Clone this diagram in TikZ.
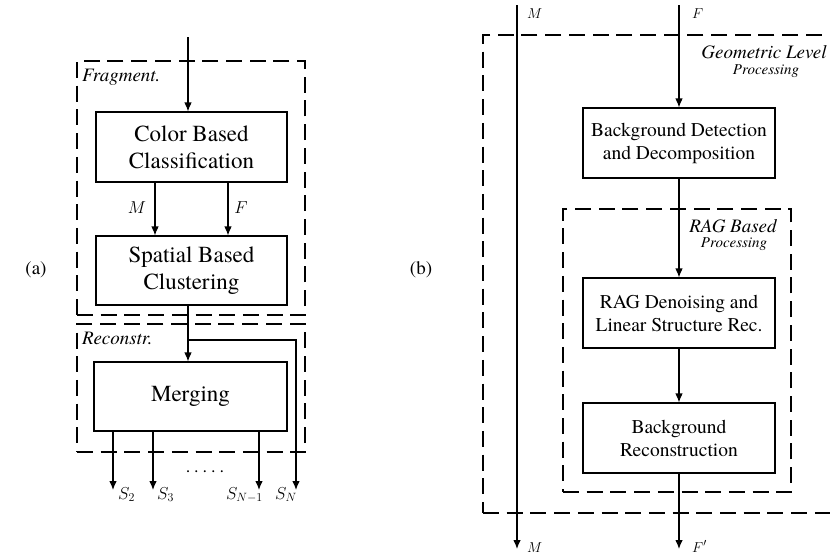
\documentclass[tikz,border=0pt]{standalone}
\usepackage{fontspec}
\setmainfont{texgyretermes-regular.otf}[ItalicFont=texgyretermes-italic.otf, BoldFont=texgyretermes-bold.otf]
\usetikzlibrary{arrows.meta}
\begin{document}
\begin{tikzpicture}[x=1pt,y=-1pt,
 box/.style={draw, line width=1.1pt, minimum width=192pt, minimum height=70pt, inner sep=0pt, align=center},
 lbox/.style={box, font=\fontsize{23}{27}\selectfont},
 rbox/.style={box, font=\fontsize{19.5}{23}\selectfont},
 region/.style={draw, dash pattern=on 16pt off 7.7pt, line width=1.2pt, inner sep=0pt},
 arr/.style={-{Latex[length=9pt,width=7.5pt]}, line width=1.1pt},
 tag/.style={font=\fontsize{19}{22}\selectfont\itshape, inner sep=0pt},
 subtag/.style={font=\fontsize{15}{17}\selectfont\itshape, inner sep=0pt},
 ml/.style={font=\fontsize{15.5}{18}\selectfont, inner sep=0pt},
 mlL/.style={font=\fontsize{18}{21}\selectfont, inner sep=0pt},
 captext/.style={font=\fontsize{19}{22}\selectfont, inner sep=0pt},
]
\useasboundingbox (0,0) rectangle (830,554);

% ---------- (a) ----------
\node[captext] (capa) at (36,270) {(a)};
\node[region, minimum width=228pt, minimum height=254pt] (frag) at (191,188) {};
\node[region, minimum width=228pt, minimum height=128pt] (recon) at (191,388) {};
\node[tag, anchor=base west] (fragt) at (82,81) {Fragment.};
\node[tag, anchor=base west] (recont) at (82,344) {Reconstr.};

\node[lbox, minimum width=191pt] (cbc) at (191.5,147) {Color Based\\Classification};
\node[lbox, minimum width=191pt, minimum height=69pt] (sbc) at (191.5,270.5) {Spatial Based\\Clustering};
\node[lbox, minimum width=193pt, minimum height=69pt] (mrg) at (190.5,396.5) {Merging};

\coordinate (in) at (188,37);
\coordinate (mx) at (155,0);
\coordinate (fx) at (228,0);
\coordinate (br) at (188,340);
\coordinate (sN) at (296,490);
\coordinate (s2) at (113,490);
\coordinate (s3) at (153,490);
\coordinate (sN1) at (259,490);

\draw[arr] (in) -- (in |- cbc.north);
\draw[arr] (cbc.south -| mx) -- (sbc.north -| mx);
\draw[arr] (cbc.south -| fx) -- (sbc.north -| fx);
\draw[arr] (sbc.south -| in) -- (mrg.north -| in);
\draw[arr] (br) -| (sN);
\draw[arr] (mrg.south -| s2) -- (s2);
\draw[arr] (mrg.south -| s3) -- (s3);
\draw[arr] (mrg.south -| sN1) -- (sN1);

\node[mlL, anchor=base] (lm) at (137,213) {$M$};
\node[mlL, anchor=base] (lf) at (241,213) {$F$};
\node[mlL, anchor=base west] (ls2) at (118,499) {$S_2$};
\node[mlL, anchor=base west] (ls3) at (157,499) {$S_3$};
\node[mlL, anchor=base east] (lsn1) at (263,499) {$S_{N-1}$};
\node[mlL, anchor=base east] (lsn) at (297,499) {$S_N$};
\node[mlL, anchor=base] (dots) at (205,472) {.\hspace{4pt}.\hspace{4pt}.\hspace{4pt}.\hspace{4pt}.};

% ---------- (b) ----------
\node[captext] (capb) at (421,270) {(b)};
\node[region, minimum width=357pt, minimum height=478pt] (geo) at (661.5,274) {};
\node[region, minimum width=228pt, minimum height=283pt] (ragr) at (677,350.5) {};
\node[tag, anchor=base] (geot) at (764,58) {Geometric Level};
\node[subtag, anchor=base] (geop) at (766,74) {Processing};
\node[tag, anchor=base] (ragt) at (733,232) {RAG Based};
\node[subtag, anchor=base] (ragp) at (734,247) {Processing};

\node[rbox] (bd) at (679,143) {Background Detection\\and Decomposition};
\node[rbox] (rag) at (679,313) {RAG Denoising and\\Linear Structure Rec.};
\node[rbox] (brc) at (679,438) {Background\\Reconstruction};

\coordinate (mt) at (517,5);
\coordinate (mb) at (517,549);
\coordinate (ft) at (679,5);
\coordinate (fb) at (679,549);
\draw[arr] (mt) -- (mb);
\draw[arr] (ft) -- (bd.north);
\draw[arr] (bd.south) -- (rag.north);
\draw[arr] (rag.south) -- (brc.north);
\draw[arr] (brc.south) -- (fb);

\node[ml, anchor=base west] (rmt) at (527,19) {$M$};
\node[ml, anchor=base west] (rft) at (692,19) {$F$};
\node[ml, anchor=base west] (rmb) at (527,552) {$M$};
\node[ml, anchor=base west] (rfb) at (692,552) {$F'$};
\end{tikzpicture}
\end{document}
